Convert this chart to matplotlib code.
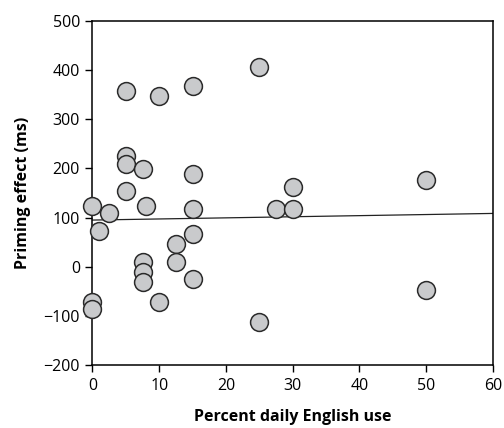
import numpy as np
import matplotlib
matplotlib.use('Agg')
from matplotlib import pyplot as plt

# percent daily English use vs. priming effect (ms)
english_use = [25, 5, 10, 15, 5, 5, 7.5, 15, 5, 0, 2.5, 8, 15, 1, 27.5, 30, 30,
               50, 50, 15, 12.5, 12.5, 7.5, 7.5, 7.5, 15, 10, 0, 0, 25]
priming = [406, 358, 347, 368, 226, 209, 199, 189, 155, 124, 110, 124, 117, 73, 117, 117, 162,
           177, -47, 66, 46, 9, 9, -10, -32, -25, -72, -71, -86, -113]
# regression line as printed in the figure
fit_intercept = 95
fit_slope = 0.225
x_ticks = [0, 10, 20, 30, 40, 50, 60]
y_ticks = [-200, -100, 0, 100, 200, 300, 400, 500]

plt.rcParams['font.family'] = ['Open Sans', 'DejaVu Sans']

fig = plt.figure(figsize=(5.04, 4.28), dpi=100)
ax = fig.add_axes([0.1835, 0.147, 0.7945, 0.804])

xs = np.array([0, 60])
ax.plot(xs, fit_intercept + fit_slope * xs, color='#222222', lw=0.9, zorder=1)

ax.scatter(english_use, priming, s=165, facecolor='#c9cacc', edgecolor='#2a2a2a',
           linewidth=1.1, zorder=3, clip_on=False)

ax.set_xlim(0, 60)
ax.set_ylim(-200, 500)
ax.set_xticks(x_ticks)
ax.set_yticks(y_ticks)
ax.tick_params(direction='out', length=5, width=1, labelsize=11.5, pad=4)
for sp in ax.spines.values():
    sp.set_linewidth(1.1)

ax.set_xlabel('Percent daily English use', fontsize=11.5, fontweight='bold', labelpad=11)
ax.set_ylabel('Priming effect (ms)', fontsize=11.5, fontweight='bold', labelpad=9)

fig.savefig('out.png', dpi=100)
